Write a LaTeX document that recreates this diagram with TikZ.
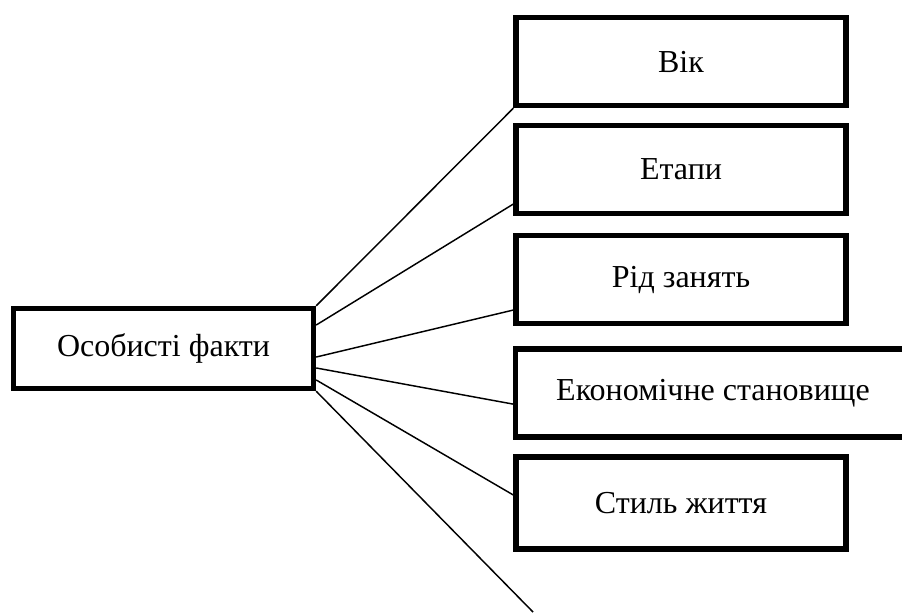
\documentclass[tikz,border=0pt]{standalone}
\usepackage{fontspec}
\setmainfont{Liberation Serif}
\newfontfamily\boxfont{Liberation Serif}
\usetikzlibrary{positioning}
\newcommand{\boxline}{4pt}
\newcommand{\linkline}{1.1pt}
\tikzset{
  factbox/.style={draw, line width=\boxline, rectangle, minimum width=247.5pt,
    minimum height=66pt, inner sep=0pt, font=\boxfont\fontsize{24}{29}\selectfont},
  link/.style={line width=\linkline}
}

\begin{document}
\begin{tikzpicture}[x=0.75pt, y=-0.75pt]
            \useasboundingbox (0,0) rectangle (902,612);
            \clip (0,0) rectangle (902,612);
            \node[factbox, minimum width=225pt, minimum height=60pt] (main) at (163.5,348.5) { Особисті факти };
            \node[factbox] (age) at (681,61.5) { Вік };
            \node[factbox] (stages) at (681,169.5) { Етапи };
            \node[factbox] (work) at (681,279.5) { Рід занять };
            \node[factbox, minimum width=296pt] (econ) at (713,393) { Економічне становище };
            \node[factbox, minimum height=69pt] (life) at (681,503) { Стиль життя };
            \coordinate (loose) at (533,612);
            \draw[link] (main.north east) -- (age.south west);
            \draw[link] ([yshift=17.6pt]main.east) -- ([yshift=-25.9pt]stages.west);
            \draw[link] ([yshift=-6.4pt]main.east) -- ([yshift=-22.9pt]work.west);
            \draw[link] ([yshift=-14.6pt]main.east) -- ([yshift=-8.3pt]econ.west);
            \draw[link] ([yshift=-23.6pt]main.east) -- ([yshift=6pt]life.west);
            \draw[link] (main.south east) -- (loose);
        \end{tikzpicture}
\end{document}
